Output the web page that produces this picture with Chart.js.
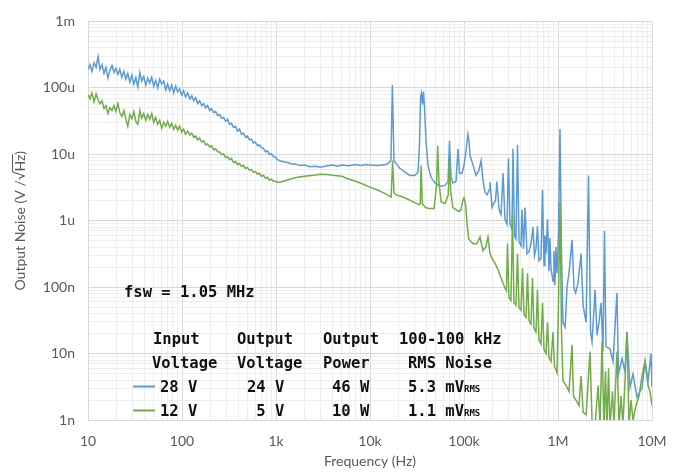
<!DOCTYPE html>
<html>
<head>
<meta charset="utf-8">
<script src="https://cdn.jsdelivr.net/npm/chart.js@4.4.1/dist/chart.umd.min.js"></script>
<style>
  html, body { margin: 0; padding: 0; background: #fff; }
  #noiseChart { display: block; }
</style>
</head>
<body>
<canvas id="noiseChart" width="680" height="472"></canvas>
<script>
/* Values are in uV/sqrt(Hz), frequencies in Hz */

const lowFreq = [10, 10.5, 11, 11.6, 12.2, 12.8, 13.4, 14.1, 14.8, 15.5,
    16.3, 17.1, 18, 18.9, 19.8, 20.8, 21.8, 22.9, 24.1, 25.3,
    26.5, 27.9, 29.3, 30.7, 32.3, 33.9, 35.6, 37.3, 39.2, 41.2,
    43.2, 45.4, 47.6, 50, 52.5, 55.2, 57.9, 60.8, 63.9, 67.1,
    70.4, 73.9, 77.6, 81.5, 85.6, 89.9, 94.4, 99.1, 104, 109,
    115, 121, 127, 133, 140, 147, 154, 162, 170, 178,
    187, 197, 206, 217, 228, 239, 251, 264, 277, 291,
    305, 320, 336, 353, 371, 390, 409, 430, 451, 474,
    497, 522, 548, 576, 604, 635, 666, 700, 735, 771,
    810, 851, 893, 938, 985, 1034];

const blueLow = [189, 224, 177, 240, 203, 294, 189, 224, 165, 203,
    140, 183, 217, 171, 196, 160, 189, 144, 177, 135,
    165, 122, 155, 114, 144, 103, 171, 126, 149, 110,
    140, 118, 144, 106, 130, 100, 135, 114, 126, 93,
    114, 90, 110, 84, 106, 87, 96, 78, 90, 73,
    84, 68, 76, 64, 71, 58, 64, 54, 58, 50,
    54, 45.5, 48.7, 42.5, 44, 38.4, 39.7, 34.7, 35.9, 31.3,
    33.5, 28.3, 29.2, 25.5, 26.4, 22.3, 23.9, 20.1, 20.8, 18.2,
    18.8, 16.4, 17, 14.8, 15.3, 13.4, 13.9, 12.5, 12.3, 10.9,
    11.3, 9.9, 10.2, 9.2, 9.1, 8.3];

const greenLow = [78.3, 68.4, 83.8, 61.8, 81.0, 66.1, 57.7, 63.9, 48.7, 53.9,
    41.1, 50.4, 45.5, 53.9, 44.0, 57.7, 42.5, 37.1, 45.5, 33.5,
    26.4, 39.7, 34.7, 44.0, 31.3, 28.3, 45.5, 34.7, 41.1, 32.4,
    39.7, 33.5, 41.1, 30.3, 35.9, 28.3, 32.4, 24.7, 30.3, 26.4,
    31.3, 25.5, 29.2, 23.9, 27.3, 23.1, 26.4, 21.6, 23.9, 20.1,
    22.3, 19.5, 20.8, 18.2, 18.8, 16.4, 17.6, 15.3, 15.9, 13.9,
    14.3, 12.9, 13.4, 11.7, 12.1, 10.9, 10.8, 9.87, 10.2, 8.91,
    9.22, 8.32, 8.61, 7.51, 7.77, 7.01, 7.26, 6.56, 6.78, 6.12,
    6.34, 5.72, 5.92, 5.34, 5.53, 5.0, 5.18, 4.66, 4.82, 4.35,
    4.5, 4.07, 4.21, 3.93, 3.92, 3.8];

const blueHighFreq = [1100, 1200, 1300, 1450, 1600, 1800, 2000, 2300, 2600, 3000,
    3500, 4000, 4500, 5000, 6000, 7000, 8000, 9000, 10000, 12000,
    14800, 15900, 16700, 17300, 18000, 18900, 20900, 23600, 26600, 30100,
    32400, 33600, 34500, 35300, 36200, 37100, 38000, 39400, 41400, 44600,
    49100, 55600, 62800, 67600, 70100, 72800, 76400, 82200, 86300, 89600,
    95300, 100000, 105000, 110000, 113000, 116000, 125000, 134000, 144000, 152000,
    159000, 167000, 176000, 185000, 189000, 199000, 209000, 216000, 224000, 236000,
    248000, 260000, 273000, 287000, 297000, 309000, 324000, 332000, 345000, 357000,
    371000, 385000, 404000, 414000, 430000, 446000, 468000, 491000, 516000, 542000,
    562000, 583000, 605000, 628000, 659000, 684000, 710000, 727000, 745000, 773000,
    802000, 820000, 843000, 885000, 905000, 929000, 950000, 976000, 1012000, 1050000,
    1090000, 1130000, 1190000, 1250000, 1310000, 1410000, 1480000, 1540000, 1630000, 1760000,
    1850000, 1990000, 2110000, 2220000, 2300000, 2480000, 2600000, 2730000, 2870000, 3010000,
    3120000, 3240000, 3570000, 3850000, 4240000, 4400000, 4800000, 5160000, 5420000, 5830000,
    6280000, 6930000, 7450000, 7830000, 8430000, 9070000, 9760000, 10000000];

const blueHigh = [8.0, 7.7, 7.6, 7.2, 7.1, 6.8, 6.9, 6.5, 6.6, 6.4,
    6.7, 6.9, 6.6, 6.9, 6.7, 7.0, 6.8, 7.0, 6.9, 6.8,
    7.0, 7.5, 8.0, 110, 8.0, 7.3, 6.1, 5.4, 4.8, 4.8,
    5.4, 13.4, 73, 84, 56, 87, 52, 16, 6.8, 4.5,
    3.7, 3.3, 3.4, 3.9, 15.9, 4.5, 3.7, 3.9, 12.1, 5.2,
    5.2, 6.8, 11.3, 20, 15.9, 9.5, 6.8, 4.8, 5.7, 8.0,
    4.1, 2.7, 2.45, 2.9, 3.8, 1.58, 1.86, 2.0, 3.9, 1.47,
    1.24, 5.2, 1.05, 0.886, 8.6, 0.886, 0.746, 12.1, 0.587, 0.532,
    13.9, 0.479, 0.42, 1.47, 0.379, 1.58, 0.319, 0.342, 0.449, 0.8,
    0.297, 0.379, 0.826, 0.251, 0.27, 2.9, 0.212, 0.6, 0.319, 1.05,
    0.173, 0.55, 0.192, 0.123, 0.35, 0.108, 0.4, 0.162, 0.63, 23.9,
    0.319, 0.0296, 0.025, 0.104, 0.162, 0.514, 0.097, 0.082, 0.115, 0.319,
    0.0528, 0.0296, 4.8, 0.0211, 0.015, 0.091, 0.0189, 0.0296, 0.058, 0.0107,
    0.698, 0.0127, 0.0118, 0.0076, 0.082, 0.0049, 0.0084, 0.0054, 0.0211, 0.0031,
    0.0049, 0.0022, 0.0027, 0.003, 0.0076, 0.0039, 0.01, 0.0031];

const greenHighFreq = [1100, 1200, 1400, 1700, 2000, 2500, 3000, 3500, 4000, 5000,
    6000, 7000, 8000, 10000, 12000, 14000, 16000, 16800, 17400, 18000,
    19000, 22000, 26000, 30000, 33000, 34200, 35000, 36000, 39000, 43000,
    48000, 51000, 52500, 54000, 57000, 63000, 68000, 70000, 72000, 76000,
    82000, 88000, 93000, 97000, 100000, 104000, 108000, 112000, 116000, 125000,
    137000, 148000, 159000, 171000, 180000, 189000, 199000, 214000, 227000, 242000,
    260000, 273000, 283000, 290000, 301000, 316000, 328000, 340000, 357000, 371000,
    385000, 404000, 419000, 435000, 457000, 474000, 491000, 516000, 535000, 555000,
    583000, 605000, 628000, 659000, 684000, 710000, 745000, 773000, 802000, 843000,
    885000, 918000, 976000, 1012000, 1050000, 1090000, 1130000, 1220000, 1310000, 1410000,
    1460000, 1550000, 1670000, 1760000, 1850000, 1990000, 2190000, 2300000, 2480000, 2670000,
    2800000, 2940000, 3090000, 3200000, 3320000, 3450000, 3570000, 3800000, 3940000, 4240000,
    4460000, 4680000, 4910000, 5160000, 5420000, 5690000, 5980000, 6280000, 6760000, 7270000,
    7830000, 8430000, 9070000, 9520000, 10000000];

const greenHigh = [3.8, 3.93, 4.21, 4.5, 4.66, 4.82, 5.0, 4.95, 4.82, 4.66,
    4.21, 3.93, 3.67, 3.2, 2.9, 2.62, 2.37, 2.29, 8.0, 2.62,
    2.45, 2.29, 2.07, 1.87, 1.75, 1.8, 6.8, 1.8, 1.58, 1.52,
    1.52, 3.43, 13.4, 4.07, 1.93, 1.82, 2.45, 8.9, 2.9, 1.58,
    1.47, 1.37, 1.47, 2.0, 2.21, 1.75, 0.886, 0.532, 0.497, 0.449,
    0.449, 0.569, 0.354, 0.405, 0.569, 0.319, 0.27, 0.228, 0.192, 0.151,
    0.115, 0.097, 0.088, 0.449, 0.069, 0.063, 1.24, 0.058, 0.053, 0.319,
    0.049, 0.045, 0.192, 0.039, 0.035, 0.162, 0.0317, 0.0277, 0.137, 0.0242,
    0.0211, 0.091, 0.0161, 0.014, 0.058, 0.0115, 0.01, 0.0296, 0.0087, 0.0076,
    0.0211, 0.0064, 0.0051, 0.058, 1.93, 0.0211, 0.0039, 0.0033, 0.0027, 0.0136,
    0.0023, 0.002, 0.00165, 0.0046, 0.0013, 0.0012, 0.0107, 0.001, 0.00084, 0.0033,
    0.00084, 0.015, 0.0008, 0.0054, 0.0007, 0.006, 0.0008, 0.0027, 0.00084, 0.0107,
    0.0008, 0.0023, 0.00084, 0.0039, 0.0211, 0.00084, 0.002, 0.001, 0.00165, 0.0023,
    0.0046, 0.0076, 0.0033, 0.0027, 0.00165];

const freqLabels = ["10", "100", "1k", "10k", "100k", "1M", "10M"];
const noiseLabels = ["1n", "10n", "100n", "1u", "10u", "100u", "1m"];

const seriesNames = ["28 V", "12 V"];
const seriesColors = ["#5b9bd5", "#70ad47"];

const fswNote = "fsw = 1.05 MHz";
const tableHead = [["Input", "Voltage"], ["Output", "Voltage"], ["Output", "Power"], ["100-100 kHz", "RMS Noise"]];
const inputVoltage = ["28 V", "12 V"];
const outputVoltage = ["24 V", "5 V"];
const outputPower = ["46 W", "10 W"];
const rmsNoise = ["5.3", "1.1"];

function toPoints(freq, values) {
    return freq.map((f, i) => ({ x: f, y: values[i] }));
}

function decadeTicks(scale) {
    const ticks = [];
    const lo = Math.round(Math.log10(scale.min));
    const hi = Math.round(Math.log10(scale.max));
    for (let e = lo; e < hi; e++) {
        for (let m = 1; m < 10; m++) {
            ticks.push({ value: m * Math.pow(10, e), major: m === 1 });
        }
    }
    ticks.push({ value: Math.pow(10, hi), major: true });
    scale.ticks = ticks;
}

const gridColor = c => (c.tick && c.tick.major) ? "#d9d9d9" : "#eeeeee";

/* y title with the root bar over Hz */
const yTitle = {
    id: "yTitle",
    afterDraw(chart) {
        const ctx = chart.ctx;
        const area = chart.chartArea;
        ctx.save();
        ctx.translate(20, (area.top + area.bottom) / 2);
        ctx.rotate(-Math.PI / 2);
        ctx.font = '14px Lato, "DejaVu Sans"';
        ctx.fillStyle = "#595959";
        ctx.textBaseline = "middle";
        const head = "Output Noise (V /\u221A";
        const full = head + "Hz)";
        const x0 = -ctx.measureText(full).width / 2;
        ctx.fillText(full, x0, 0);
        const a = x0 + ctx.measureText(head).width - 0.5;
        const b = x0 + ctx.measureText(head + "Hz").width + 0.5;
        ctx.strokeStyle = "#595959";
        ctx.lineWidth = 1;
        ctx.beginPath();
        ctx.moveTo(a, -7.5);
        ctx.lineTo(b, -7.5);
        ctx.stroke();
        ctx.restore();
    }
};

/* condition table drawn inside the plot */
const noiseTable = {
    id: "noiseTable",
    afterDraw(chart) {
        const ctx = chart.ctx;
        const mono = '"DejaVu Sans Mono", monospace';
        ctx.save();
        ctx.fillStyle = "#111";
        ctx.textBaseline = "alphabetic";
        ctx.font = "bold 15.5px " + mono;
        ctx.fillText(fswNote, 124, 297);

        const headX = [[153, 152], [237, 237], [323, 323], [399, 408]];
        const rowY = [344, 368];
        tableHead.forEach((col, c) => {
            col.forEach((txt, r) => ctx.fillText(txt, headX[c][r], rowY[r]));
        });

        const valY = [392, 416];
        for (let r = 0; r < 2; r++) {
            const y = valY[r];
            ctx.strokeStyle = seriesColors[r];
            ctx.lineWidth = 2;
            ctx.beginPath();
            ctx.moveTo(133, y - 5.5);
            ctx.lineTo(155, y - 5.5);
            ctx.stroke();

            ctx.font = "bold 15.5px " + mono;
            ctx.fillText(inputVoltage[r], 160, y);
            ctx.fillText(outputVoltage[r], 247 + (outputVoltage[r].length < 4 ? 9.3 : 0), y);
            ctx.fillText(outputPower[r], 332, y);
            const main = rmsNoise[r] + " mV";
            ctx.fillText(main, 408, y);
            const w = ctx.measureText(main).width;
            ctx.font = "bold 9px " + mono;
            ctx.fillText("RMS", 408 + w, y);
        }
        ctx.restore();
    }
};

new Chart(document.getElementById("noiseChart"), {
    type: "line",
    data: {
        datasets: [{
            label: seriesNames[0],
            data: toPoints(lowFreq.concat(blueHighFreq), blueLow.concat(blueHigh)),
            borderColor: seriesColors[0],
            borderWidth: 1.5,
            pointRadius: 0,
            tension: 0,
            order: 2
        }, {
            label: seriesNames[1],
            data: toPoints(lowFreq.concat(greenHighFreq), greenLow.concat(greenHigh)),
            borderColor: seriesColors[1],
            borderWidth: 1.5,
            pointRadius: 0,
            tension: 0,
            order: 1
        }]
    },
    options: {
        responsive: false,
        animation: false,
        devicePixelRatio: 1,
        layout: { padding: { top: 13, right: 28, left: 0, bottom: 0 } },
        plugins: {
            legend: { display: false },
            tooltip: { enabled: false }
        },
        scales: {
            x: {
                type: "logarithmic",
                min: 10,
                max: 1e7,
                afterBuildTicks: decadeTicks,
                afterFit: scale => { scale.height = 52; },
                grid: { color: gridColor, drawTicks: false },
                border: { color: "#d9d9d9" },
                ticks: {
                    autoSkip: false,
                    maxRotation: 0,
                    padding: 13,
                    color: "#595959",
                    font: { family: "Lato", size: 14 },
                    callback: (value, i, ticks) => ticks[i].major ? freqLabels[Math.round(Math.log10(value)) - 1] : ""
                },
                title: {
                    display: true,
                    text: "Frequency (Hz)",
                    color: "#595959",
                    font: { family: "Lato", size: 14 },
                    padding: { top: 0, bottom: 2 }
                }
            },
            y: {
                type: "logarithmic",
                min: 1e-3,
                max: 1e3,
                afterBuildTicks: decadeTicks,
                afterFit: scale => { scale.width = 88; },
                grid: { color: gridColor, drawTicks: false },
                border: { color: "#d9d9d9" },
                ticks: {
                    autoSkip: false,
                    padding: 13,
                    color: "#595959",
                    font: { family: "Lato", size: 14 },
                    callback: (value, i, ticks) => ticks[i].major ? noiseLabels[Math.round(Math.log10(value)) + 3] : ""
                }
            }
        }
    },
    plugins: [yTitle, noiseTable]
});
</script>
</body>
</html>
